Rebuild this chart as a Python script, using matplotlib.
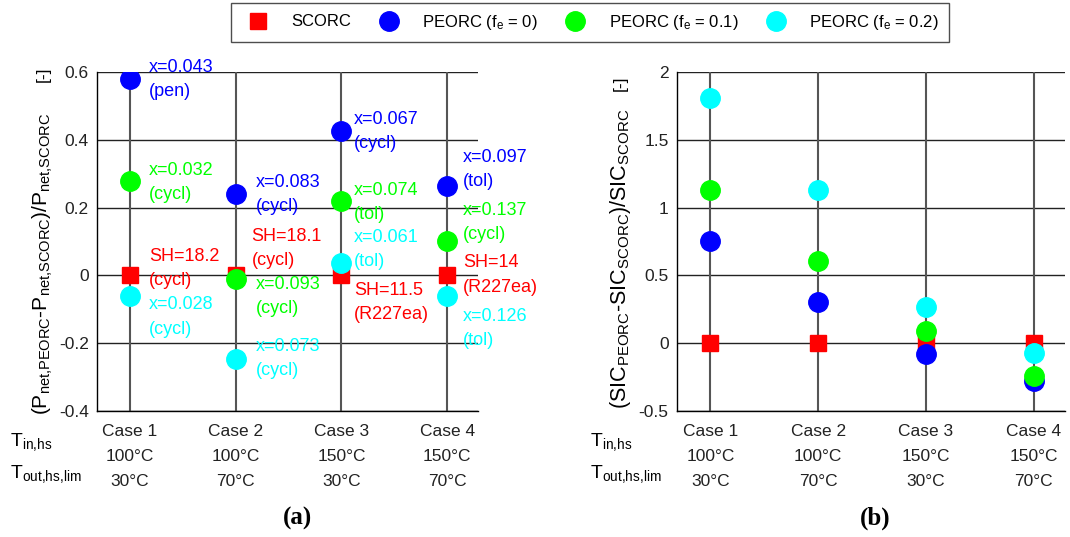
import numpy as np
import matplotlib
matplotlib.use('Agg')
import matplotlib.pyplot as plt
from matplotlib.ticker import FuncFormatter

plt.rcParams['font.family'] = ['Liberation Sans', 'DejaVu Sans']
plt.rcParams['mathtext.default'] = 'regular'
plt.rcParams['font.size'] = 12

# data
cases = [1, 2, 3, 4]
case_labels = ['Case 1\n100°C\n30°C', 'Case 2\n100°C\n70°C', 'Case 3\n150°C\n30°C', 'Case 4\n150°C\n70°C']
series_names = ['SCORC', 'PEORC (f$_e$ = 0)', 'PEORC (f$_e$ = 0.1)', 'PEORC (f$_e$ = 0.2)']
colors = ['#ff0000', '#0000ff', '#00ff00', '#00ffff']

pnet_scorc = [0, 0, 0, 0]
pnet_fe0 = [0.58, 0.24, 0.425, 0.265]
pnet_fe01 = [0.278, -0.01, 0.219, 0.101]
pnet_fe02 = [-0.06, -0.247, 0.036, -0.062]

sic_scorc = [0, 0, 0, 0]
sic_fe0 = [0.754, 0.304, -0.077, -0.277]
sic_fe01 = [1.132, 0.606, 0.088, -0.24]
sic_fe02 = [1.806, 1.13, 0.265, -0.075]

# annotations on panel (a): case, top of text, text, colour index, x shift
ann_case = [1, 1, 1, 1, 2, 2, 2, 2, 3, 3, 3, 3, 4, 4, 4, 4]
ann_top = [0.640, 0.336, 0.081, -0.062,
           0.300, 0.140, -0.001, -0.184,
           0.485, 0.276, 0.137, -0.018,
           0.373, 0.218, 0.062, -0.096]
ann_text = ['x=0.043\n(pen)', 'x=0.032\n(cycl)', 'SH=18.2\n(cycl)', 'x=0.028\n(cycl)',
            'x=0.083\n(cycl)', 'SH=18.1\n(cycl)', 'x=0.093\n(cycl)', 'x=0.073\n(cycl)',
            'x=0.067\n(cycl)', 'x=0.074\n(tol)', 'x=0.061\n(tol)', 'SH=11.5\n(R227ea)',
            'x=0.097\n(tol)', 'x=0.137\n(cycl)', 'SH=14\n(R227ea)', 'x=0.126\n(tol)']
ann_col = [1, 2, 0, 3, 1, 0, 2, 3, 1, 2, 3, 0, 1, 2, 0, 3]
ann_dx = [0.18, 0.18, 0.18, 0.18, 0.19, 0.15, 0.19, 0.19, 0.12, 0.12, 0.12, 0.12, 0.15, 0.15, 0.15, 0.15]

fig = plt.figure(figsize=(10.7, 5.37), dpi=100)
ax1 = fig.add_axes([0.0907, 0.2346, 0.356, 0.631])
ax2 = fig.add_axes([0.6327, 0.2346, 0.3626, 0.631])


def setup(ax, ylim, yticks):
    ax.set_xlim(0.69, 4.29)
    ax.set_ylim(ylim)
    ax.set_yticks(yticks)
    ax.yaxis.set_major_formatter(FuncFormatter(lambda v, p: '%g' % round(v, 2)))
    for y in yticks:
        ax.axhline(y, color='#222222', lw=1.0, zorder=1)
    for c in cases:
        ax.axvline(c, color='#555555', lw=1.5, zorder=1)
    ax.spines['top'].set_visible(False)
    ax.spines['right'].set_visible(False)
    ax.spines['left'].set_linewidth(1.0)
    ax.spines['bottom'].set_linewidth(1.0)
    ax.set_xticks(cases)
    ax.set_xticklabels(case_labels, linespacing=1.85)
    ax.tick_params(axis='both', length=0, labelsize=12.5, colors='#222222')
    ax.tick_params(axis='x', pad=9)
    ax.tick_params(axis='y', pad=6)


def plot_series(ax, vals):
    handles = []
    for i, v in enumerate(vals):
        if i == 0:
            h, = ax.plot(cases, v, 's', color=colors[i], ms=11, ls='none', zorder=3, label=series_names[i])
        else:
            h, = ax.plot(cases, v, 'o', color=colors[i], ms=14, ls='none', zorder=3, label=series_names[i])
        handles.append(h)
    return handles


setup(ax1, (-0.4, 0.6), np.arange(-0.4, 0.61, 0.2))
setup(ax2, (-0.5, 2.0), np.arange(-0.5, 2.01, 0.5))

handles = plot_series(ax1, [pnet_scorc, pnet_fe0, pnet_fe01, pnet_fe02])
plot_series(ax2, [sic_scorc, sic_fe0, sic_fe01, sic_fe02])

for c, t, s, ci, dx in zip(ann_case, ann_top, ann_text, ann_col, ann_dx):
    ax1.text(c + dx, t, s, color=colors[ci], fontsize=13, va='top', ha='left', linespacing=1.55, zorder=4)

# y labels
fig.text(0.040, 0.227, '$(P_{net{,}PEORC}$-$P_{net{,}SCORC})/P_{net{,}SCORC}$', rotation=90,
         ha='center', va='bottom', fontsize=15)
fig.text(0.040, 0.877, '[-]', rotation=90, ha='center', va='top', fontsize=12.5)
fig.text(0.580, 0.238, '$(SIC_{PEORC}$-$SIC_{SCORC})/SIC_{SCORC}$', rotation=90,
         ha='center', va='bottom', fontsize=15.5)
fig.text(0.580, 0.860, '[-]', rotation=90, ha='center', va='top', fontsize=12.5)

# row labels
for xr in [0.009, 0.551]:
    fig.text(xr, 1 - 446 / 537, 'T$_{in{,}hs}$', ha='left', va='baseline', fontsize=14)
    fig.text(xr, 1 - 478 / 537, 'T$_{out{,}hs{,}lim}$', ha='left', va='baseline', fontsize=14)

fig.text(298 / 1070, 1 - 518 / 537, '(a)', ha='center', va='center', fontsize=18,
         fontweight='bold', family='Liberation Serif')
fig.text(875 / 1070, 1 - 518 / 537, '(b)', ha='center', va='center', fontsize=18,
         fontweight='bold', family='Liberation Serif')

leg = fig.legend(handles=handles, loc='center', bbox_to_anchor=(590 / 1070, 1 - 22 / 537), ncol=4,
                 frameon=True, fancybox=False, edgecolor='#222222', fontsize=12,
                 handletextpad=1.0, columnspacing=1.25, borderpad=0.6, borderaxespad=0)
leg.get_frame().set_linewidth(1.0)

fig.savefig('out.png', dpi=100)
